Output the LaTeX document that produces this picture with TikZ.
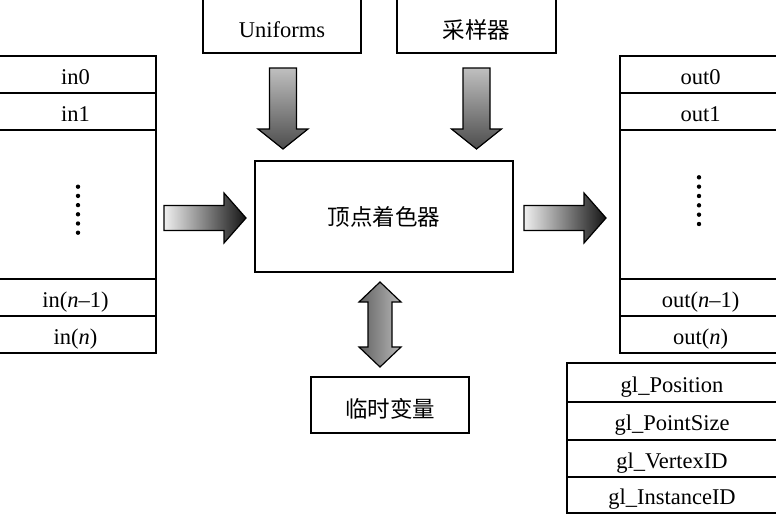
\documentclass[tikz,border=0pt]{standalone}
\usepackage{fontspec}
\setmainfont{Liberation Serif}
\newfontfamily\cjk{Noto Sans CJK SC}
\begin{document}
\tikzset{
  cell/.style={draw, line width=1.2pt, inner sep=0pt, text height=19pt, text depth=0pt, font=\fontsize{22.5}{26}\selectfont},
  box/.style={draw, line width=1.2pt, inner sep=0pt},
  lab/.style={font=\fontsize{22.5}{26}\selectfont\cjk, inner sep=0pt},
  arrowline/.style={draw, line width=1.2pt, line join=miter},
  rarrow/.pic={
    \path[arrowline, left color=black!6, right color=black!92]
      (-41,-12.5) -- (19,-12.5) -- (19,-25) -- (41,0) -- (19,25) -- (19,12.5) -- (-41,12.5) -- cycle;
  },
  darrow/.pic={
    \path[arrowline, top color=black!25, bottom color=black!70]
      (-13.5,-40.5) -- (13.5,-40.5) -- (13.5,20.5) -- (25,20.5) -- (0,40.5) -- (-25,20.5) -- (-13.5,20.5) -- cycle;
  },
  vdarrow/.pic={
    \path[arrowline, left color=black!62, right color=black!28]
      (0,-42.5) -- (21,-22.5) -- (12,-22.5) -- (12,22.5) -- (21,22.5) -- (0,42.5) -- (-21,22.5) -- (-12,22.5) -- (-12,-22.5) -- (-21,-22.5) -- cycle;
  },
}
\begin{tikzpicture}[x=1pt, y=-1pt]
\useasboundingbox (0,0) rectangle (776,515);

% input table
\node[cell, minimum width=161pt, minimum height=37pt] (in0) at (75.5,74.5) {in0};
\node[cell, minimum width=161pt, minimum height=37pt] (in1) at (75.5,111.5) {in1};
\node[cell, minimum width=161pt, minimum height=149pt] (inmid) at (75.5,204.5) {};
\node[cell, minimum width=161pt, minimum height=37pt] (inn1) at (75.5,297.5) {in(\textit{n}–1)};
\node[cell, minimum width=161pt, minimum height=37pt] (inn) at (75.5,334.5) {in(\textit{n})};
\foreach \i in {0,...,5} \fill (78,186.7+9.2*\i) circle (2.2pt);

% output table
\node[cell, minimum width=161pt, minimum height=37pt] (out0) at (700.5,74.5) {out0};
\node[cell, minimum width=161pt, minimum height=37pt] (out1) at (700.5,111.5) {out1};
\node[cell, minimum width=161pt, minimum height=149pt] (outmid) at (700.5,204.5) {};
\node[cell, minimum width=161pt, minimum height=37pt] (outn1) at (700.5,297.5) {out(\textit{n}–1)};
\node[cell, minimum width=161pt, minimum height=37pt] (outn) at (700.5,334.5) {out(\textit{n})};
\foreach \i in {0,...,5} \fill (699,177.3+9.34*\i) circle (2.2pt);

% built-in outputs
\node[cell, minimum width=210pt, minimum height=39pt] (glpos) at (672,382.5) {gl\_Position};
\node[cell, minimum width=210pt, minimum height=38pt] (glps) at (672,421) {gl\_PointSize};
\node[cell, minimum width=210pt, minimum height=37pt] (glvid) at (672,458.5) {gl\_VertexID};
\node[cell, minimum width=210pt, minimum height=36pt] (gliid) at (672,495) {gl\_InstanceID};

% top boxes
\node[box, minimum width=158pt, minimum height=58pt,
      label={[font=\fontsize{22.5}{26}\selectfont, inner sep=0pt, yshift=-6pt]center:Uniforms}] (uni) at (282,24) {};
\node[box, minimum width=159pt, minimum height=58pt,
      label={[lab, yshift=-6pt]center:采样器}] (samp) at (476.5,24) {};

% shader
\node[box, minimum width=258pt, minimum height=111pt,
      label={[lab]center:顶点着色器}] (shader) at (384,216.5) {};

% temp variables
\node[box, minimum width=158pt, minimum height=56pt,
      label={[lab, yshift=-4pt]center:临时变量}] (temp) at (390,405) {};

% block arrows
\pic (ain) at (205,218) {rarrow};
\pic (aout) at (565,218) {rarrow};
\pic (auni) at (283,108.5) {darrow};
\pic (asamp) at (476.5,108.5) {darrow};
\pic (atemp) at (380,324.5) {vdarrow};
\end{tikzpicture}
\end{document}
